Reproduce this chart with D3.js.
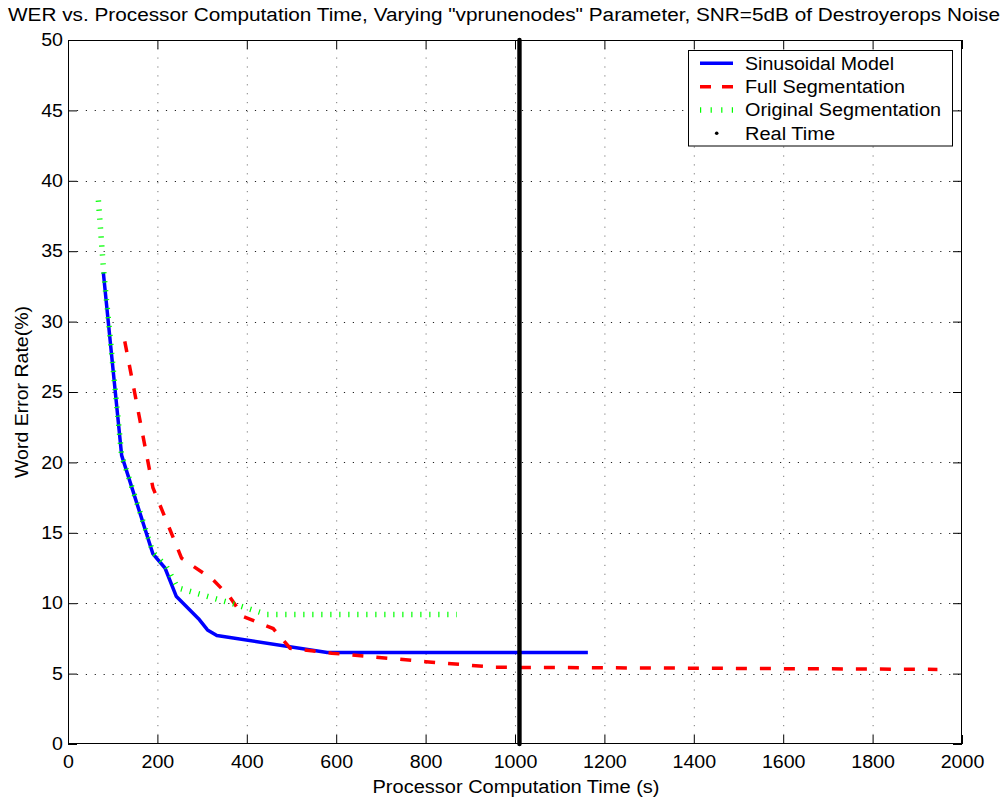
<!DOCTYPE html>
<html><head><meta charset="utf-8">
<script src="https://cdn.jsdelivr.net/npm/d3@7"></script>
<style>
body{margin:0;background:#fff}
text{font-family:"Liberation Sans",Arial,Helvetica,sans-serif;fill:#000}
</style></head>
<body><svg id="c" width="1005" height="801"></svg>
<script>
// ---- data ----
const sinX = [79,120,190,217,242,292,312,333,580,1163];
const sinY = [33.5,20.5,13.5,12.5,10.5,8.9,8.1,7.7,6.5,6.5];
const fullX = [127,190,254,325,362,392,459,497,590,800,955,1945];
const fullY = [28.6,18.2,13.2,11.65,10.44,9.05,8.2,6.8,6.45,5.85,5.45,5.3];
const origX = [68,80,120,190,220,245,370,445,870];
const origY = [38.6,33.5,20.5,13.6,12.6,11.1,9.95,9.2,9.2];
const rtX = [1010,1010];
const rtY = [0,50];
const xTicks = [0,200,400,600,800,1000,1200,1400,1600,1800,2000];
const yTicks = [0,5,10,15,20,25,30,35,40,45,50];
const seriesNames = ["Sinusoidal Model","Full Segmentation","Original Segmentation","Real Time"];
const titleText = 'WER vs. Processor Computation Time, Varying "vprunenodes" Parameter, SNR=5dB of Destroyerops Noise';
const xLabel = "Processor Computation Time (s)";
const yLabel = "Word Error Rate(%)";

// ---- layout ----
const L=68, R=962, T=40, B=744;
const svg = d3.select("#c");
svg.append("rect").attr("width",1005).attr("height",801).attr("fill","#fff");
const x = d3.scaleLinear().domain([0,2000]).range([L,R]);
const y = d3.scaleLinear().domain([0,50]).range([B,T]);
const FS = 18, WX = 1.09;

// grid
const g = svg.append("g");
g.selectAll(".vg").data(xTicks.slice(1,-1)).join("line")
  .attr("x1",d=>x(d)+0.5).attr("x2",d=>x(d)+0.5).attr("y1",B).attr("y2",T)
  .attr("stroke","#777").attr("stroke-width",1).attr("stroke-dasharray","1.2,7.7");
g.selectAll(".hg").data(yTicks.slice(1,-1)).join("line")
  .attr("y1",d=>Math.round(y(d))+0.5).attr("y2",d=>Math.round(y(d))+0.5).attr("x1",L).attr("x2",R)
  .attr("stroke","#222").attr("stroke-width",1).attr("stroke-dasharray","1.2,7.7");

// axes (ticks inside)
const ax = svg.append("g").attr("transform",`translate(0,${B})`)
  .call(d3.axisBottom(x).tickValues(xTicks).tickSizeInner(-9).tickSizeOuter(0).tickPadding(11).tickFormat(d3.format("d")));
const axT = svg.append("g").attr("transform",`translate(0,${T})`)
  .call(d3.axisTop(x).tickValues(xTicks).tickSizeInner(-9).tickSizeOuter(0).tickFormat(""));
const ay = svg.append("g").attr("transform",`translate(${L},0)`)
  .call(d3.axisLeft(y).tickValues(yTicks).tickSizeInner(-9).tickSizeOuter(0).tickPadding(5).tickFormat(d3.format("d")));
const ayR = svg.append("g").attr("transform",`translate(${R},0)`)
  .call(d3.axisRight(y).tickValues(yTicks).tickSizeInner(-9).tickSizeOuter(0).tickFormat(""));
[ax,axT,ay,ayR].forEach(a=>{a.select(".domain").remove();a.selectAll("line").attr("stroke","#000");a.selectAll("text").attr("font-size",FS).attr("font-family",null);});
svg.append("rect").attr("x",L+0.5).attr("y",T+0.5).attr("width",R-L-1).attr("height",B-T-1)
  .attr("fill","none").attr("stroke","#000").attr("stroke-width",1);

// series
const line = d3.line().x(d=>x(d[0])).y(d=>y(d[1]));
const zip = (a,b)=>a.map((v,i)=>[v,b[i]]);
const plot = svg.append("g");
plot.append("path").datum(zip(sinX,sinY)).attr("d",line).attr("fill","none")
  .attr("stroke","#0000ff").attr("stroke-width",3.5).attr("stroke-linejoin","round");
plot.append("path").datum(zip(fullX,fullY)).attr("d",line).attr("fill","none")
  .attr("stroke","#ff0000").attr("stroke-width",3.5).attr("stroke-dasharray","11,13");
plot.append("path").datum(zip(origX,origY)).attr("d",line).attr("fill","none")
  .attr("stroke","#00ff00").attr("stroke-width",5.5).attr("stroke-dasharray","1.2,7.8");
plot.append("path").datum(zip(rtX,rtY)).attr("d",line).attr("fill","none")
  .attr("stroke","#000").attr("stroke-width",4.4).attr("stroke-linecap","round");

// legend
const lg = svg.append("g");
lg.append("rect").attr("x",688.5).attr("y",50.5).attr("width",264).attr("height",95.5)
  .attr("fill","#fff").attr("stroke","#000");
const rows=[63.3,86.7,110,133.3];
lg.append("line").attr("x1",700).attr("x2",733).attr("y1",rows[0]).attr("y2",rows[0]).attr("stroke","#0000ff").attr("stroke-width",3.5);
lg.append("line").attr("x1",700).attr("x2",733).attr("y1",rows[1]).attr("y2",rows[1]).attr("stroke","#ff0000").attr("stroke-width",3.5).attr("stroke-dasharray","11,11");
lg.append("line").attr("x1",700).attr("x2",733).attr("y1",rows[2]).attr("y2",rows[2]).attr("stroke","#00ff00").attr("stroke-width",5.5).attr("stroke-dasharray","1.2,9.4");
lg.append("circle").attr("cx",716.7).attr("cy",rows[3]).attr("r",1.8).attr("fill","#000");
const lw=[149,160,196,90];
seriesNames.forEach((n,i)=>{
  lg.append("text").attr("x",745).attr("y",rows[i]).attr("dy","0.36em").attr("font-size",FS)
    .attr("textLength",lw[i]).attr("lengthAdjust","spacingAndGlyphs").text(n);
});

// titles
svg.append("text").attr("x",504).attr("y",21).attr("text-anchor","middle").attr("font-size",FS)
  .attr("textLength",992).attr("lengthAdjust","spacingAndGlyphs").text(titleText);
svg.append("text").attr("x",516).attr("y",793).attr("text-anchor","middle").attr("font-size",FS)
  .attr("textLength",287).attr("lengthAdjust","spacingAndGlyphs").text(xLabel);
svg.append("text").attr("transform","translate(28,392) rotate(-90)").attr("text-anchor","middle").attr("font-size",FS)
  .attr("textLength",172).attr("lengthAdjust","spacingAndGlyphs").text(yLabel);

// widen tick labels
[ax,ay].forEach(a=>a.selectAll("text").each(function(){
  const w=this.getComputedTextLength();
  d3.select(this).attr("textLength",w*WX).attr("lengthAdjust","spacingAndGlyphs");
}));
</script></body></html>
